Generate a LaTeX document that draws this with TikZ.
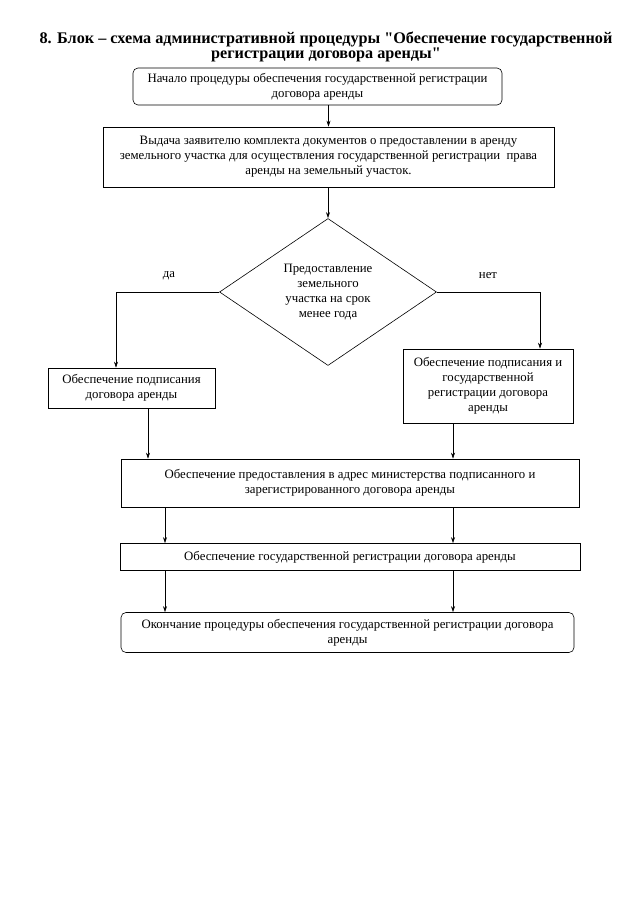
\documentclass[tikz,border=0pt]{standalone}
\usepackage{fontspec}
\setmainfont{Liberation Serif}[Ligatures=TeXOff]
\usetikzlibrary{shapes.geometric,arrows.meta}

\begin{document}
\begin{tikzpicture}[x=1pt, y=-1pt, font=\fontsize{12.8}{15}\selectfont,
		>={Stealth[length=6pt,width=4pt]}, line width=0.6pt]
			\tikzstyle{block}=[rectangle,draw,align=center,inner sep=2pt]
			\tikzstyle{term}=[block,rounded corners=5pt]
			\tikzstyle{decision}=[diamond,draw,align=center,inner sep=0pt,aspect=1.5]
			\useasboundingbox (0,0) rectangle (640,905);
			
			\node[align=center,font=\fontsize{16.2}{15.5}\selectfont\bfseries](title) at (326,47)
			{8. Блок – схема административной процедуры "Обеспечение государственной\\
			регистрации договора аренды"};
			
			\node[term,minimum width=369pt,minimum height=37pt](start) at (317.5,86.5)
			{Начало процедуры обеспечения государственной регистрации\\ договора аренды};
			\node[block,minimum width=451pt,minimum height=60pt](issue) at (328.5,157)
			{Выдача заявителю комплекта документов о предоставлении в аренду\\
			земельного участка для осуществления государственной регистрации~ права\\
			аренды на земельный участок.};
			\node[decision,minimum width=217pt,minimum height=147pt](dec) at (328,292)
			{Предоставление\\ земельного\\ участка на срок\\ менее года};
			\node[](yes) at (169,276){да};
			\node[](no) at (488,276){нет};
			
			\node[block,minimum width=167pt,minimum height=40pt](sign) at (131.5,388)
			{Обеспечение подписания\\ договора аренды};
			\node[block,minimum width=170pt,minimum height=74pt](signreg) at (488,386)
			{Обеспечение подписания и\\ государственной\\ регистрации договора\\ аренды};
			\node[block,minimum width=458pt,minimum height=48pt](send) at (350,483)
			{Обеспечение предоставления в адрес министерства подписанного и\\
			зарегистрированного договора аренды};
			\node[block,minimum width=460pt,minimum height=27pt](reg) at (350,557)
			{Обеспечение государственной регистрации договора аренды};
			\node[term,minimum width=453pt,minimum height=40pt](end) at (347.5,632.5)
			{Окончание процедуры обеспечения государственной регистрации договора\\ аренды};
			
			% x positions of the vertical connectors
			\coordinate (c-yes) at (116,0);
			\coordinate (c-no) at (540,0);
			\coordinate (c-a) at (148,0);
			\coordinate (c-b) at (453,0);
			\coordinate (c-c) at (165,0);
			
			\path[->] (issue.north |- start.south) edge (issue.north)
			(issue.south -| dec.north) edge (dec.north);
			\draw[->] (dec.west) -| (sign.north -| c-yes);
			\draw[->] (dec.east) -| (signreg.north -| c-no);
			
			\path[->] (sign.south -| c-a) edge (send.north -| c-a)
			(signreg.south -| c-b) edge (send.north -| c-b);
			
			\foreach \c in {c-c,c-b}
			\path[->] (send.south -| \c) edge (reg.north -| \c)
			(reg.south -| \c) edge (end.north -| \c);
			\end{tikzpicture}
\end{document}
